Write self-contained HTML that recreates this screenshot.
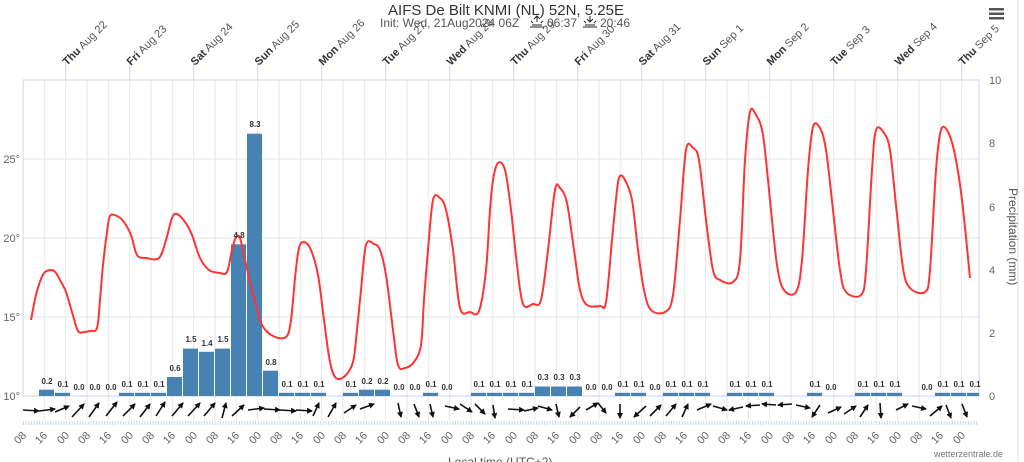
<!DOCTYPE html>
<html><head><meta charset="utf-8"><style>
html,body{margin:0;padding:0;background:#fff;width:1024px;height:462px;overflow:hidden}
svg{display:block;font-family:"Liberation Sans",sans-serif}
.dl{font-size:11px;fill:#555}
.dl tspan.b{font-weight:bold;fill:#333}
.bl{font-size:8px;font-weight:bold;fill:#333;text-anchor:middle}
.xl{font-size:11px;fill:#666;text-anchor:end}
.al{font-size:11px;fill:#666}
</style></head><body>
<svg width="1024" height="462" viewBox="0 0 1024 462">
<defs><marker id="ah" markerWidth="6" markerHeight="6" refX="5" refY="3" orient="auto" markerUnits="userSpaceOnUse"><path d="M0 0L6 3L0 6z" fill="#111"/></marker></defs>
<rect width="1024" height="462" fill="#fff"/>
<line x1="1018" y1="0" x2="1018" y2="462" stroke="#ddd"/>
<!-- title -->
<text x="506" y="15" font-size="15" fill="#333" text-anchor="middle">AIFS De Bilt KNMI (NL) 52N, 5.25E</text>
<text x="380" y="27" font-size="12" fill="#555">Init: Wed, 21Aug2024 06Z</text>
<g stroke="#222" stroke-width="1" fill="none">
<path d="M530 27h14 M532 25h10 M537 16v6 M534 19l3-3 3 3 M533 23l-2-2 M541 23l2-2"/>
<path d="M583 27h14 M585 25h10 M590 16v6 M587 19l3 3 3-3 M586 23l-2-2 M594 23l2-2"/>
</g>
<text x="547" y="27" font-size="12" fill="#555">06:37</text>
<text x="600" y="27" font-size="12" fill="#555">20:46</text>
<g fill="#555"><rect x="989" y="8" width="15" height="2.5"/><rect x="989" y="12.5" width="15" height="2.5"/><rect x="989" y="17" width="15" height="2.5"/></g>
<!-- grid -->
<g stroke="#e6e6e6" stroke-width="1">
<line x1="23" y1="159" x2="979" y2="159"/><line x1="23" y1="238" x2="979" y2="238"/><line x1="23" y1="317" x2="979" y2="317"/>
<line x1="44.3" y1="80" x2="44.3" y2="420"/><line x1="65.7" y1="80" x2="65.7" y2="420"/><line x1="87" y1="80" x2="87" y2="420"/><line x1="108.3" y1="80" x2="108.3" y2="420"/><line x1="129.7" y1="80" x2="129.7" y2="420"/><line x1="151" y1="80" x2="151" y2="420"/><line x1="172.3" y1="80" x2="172.3" y2="420"/><line x1="193.7" y1="80" x2="193.7" y2="420"/><line x1="215" y1="80" x2="215" y2="420"/><line x1="236.3" y1="80" x2="236.3" y2="420"/><line x1="257.7" y1="80" x2="257.7" y2="420"/><line x1="279" y1="80" x2="279" y2="420"/><line x1="300.3" y1="80" x2="300.3" y2="420"/><line x1="321.7" y1="80" x2="321.7" y2="420"/><line x1="343" y1="80" x2="343" y2="420"/><line x1="364.3" y1="80" x2="364.3" y2="420"/><line x1="385.7" y1="80" x2="385.7" y2="420"/><line x1="407" y1="80" x2="407" y2="420"/><line x1="428.3" y1="80" x2="428.3" y2="420"/><line x1="449.7" y1="80" x2="449.7" y2="420"/><line x1="471" y1="80" x2="471" y2="420"/><line x1="492.3" y1="80" x2="492.3" y2="420"/><line x1="513.7" y1="80" x2="513.7" y2="420"/><line x1="535" y1="80" x2="535" y2="420"/><line x1="556.3" y1="80" x2="556.3" y2="420"/><line x1="577.7" y1="80" x2="577.7" y2="420"/><line x1="599" y1="80" x2="599" y2="420"/><line x1="620.3" y1="80" x2="620.3" y2="420"/><line x1="641.7" y1="80" x2="641.7" y2="420"/><line x1="663" y1="80" x2="663" y2="420"/><line x1="684.3" y1="80" x2="684.3" y2="420"/><line x1="705.7" y1="80" x2="705.7" y2="420"/><line x1="727" y1="80" x2="727" y2="420"/><line x1="748.3" y1="80" x2="748.3" y2="420"/><line x1="769.7" y1="80" x2="769.7" y2="420"/><line x1="791" y1="80" x2="791" y2="420"/><line x1="812.3" y1="80" x2="812.3" y2="420"/><line x1="833.7" y1="80" x2="833.7" y2="420"/><line x1="855" y1="80" x2="855" y2="420"/><line x1="876.3" y1="80" x2="876.3" y2="420"/><line x1="897.7" y1="80" x2="897.7" y2="420"/><line x1="919" y1="80" x2="919" y2="420"/><line x1="940.3" y1="80" x2="940.3" y2="420"/><line x1="961.7" y1="80" x2="961.7" y2="420"/>
</g>
<g stroke="#ccd6eb" stroke-width="1" fill="none">
<rect x="23" y="80" width="956" height="316"/>
<path d="M65.7 62V80 M129.7 62V80 M193.7 62V80 M257.7 62V80 M321.7 62V80 M385.7 62V80 M449.7 62V80 M513.7 62V80 M577.7 62V80 M641.7 62V80 M705.7 62V80 M769.7 62V80 M833.7 62V80 M897.7 62V80 M961.7 62V80"/>
</g>
<line x1="23" y1="423" x2="979" y2="423" stroke="#ccd6eb" stroke-width="4" stroke-dasharray="1,1.7"/>
<!-- top day labels -->
<g class="dl">
<text transform="translate(67,66) rotate(-45)"><tspan class="b">Thu</tspan> Aug 22</text>
<text transform="translate(131,66) rotate(-45)"><tspan class="b">Fri</tspan> Aug 23</text>
<text transform="translate(195,66) rotate(-45)"><tspan class="b">Sat</tspan> Aug 24</text>
<text transform="translate(259,66) rotate(-45)"><tspan class="b">Sun</tspan> Aug 25</text>
<text transform="translate(323,66) rotate(-45)"><tspan class="b">Mon</tspan> Aug 26</text>
<text transform="translate(387,66) rotate(-45)"><tspan class="b">Tue</tspan> Aug 27</text>
<text transform="translate(451,66) rotate(-45)"><tspan class="b">Wed</tspan> Aug 28</text>
<text transform="translate(515,66) rotate(-45)"><tspan class="b">Thu</tspan> Aug 29</text>
<text transform="translate(579,66) rotate(-45)"><tspan class="b">Fri</tspan> Aug 30</text>
<text transform="translate(643,66) rotate(-45)"><tspan class="b">Sat</tspan> Aug 31</text>
<text transform="translate(707,66) rotate(-45)"><tspan class="b">Sun</tspan> Sep 1</text>
<text transform="translate(771,66) rotate(-45)"><tspan class="b">Mon</tspan> Sep 2</text>
<text transform="translate(835,66) rotate(-45)"><tspan class="b">Tue</tspan> Sep 3</text>
<text transform="translate(899,66) rotate(-45)"><tspan class="b">Wed</tspan> Sep 4</text>
<text transform="translate(963,66) rotate(-45)"><tspan class="b">Thu</tspan> Sep 5</text>
</g>
<!-- axes labels -->
<g class="al" text-anchor="end">
<text x="20" y="163">25°</text><text x="20" y="242">20°</text><text x="20" y="321">15°</text><text x="20" y="400">10°</text>
</g>
<g class="al">
<text x="989" y="84">10</text><text x="989" y="147">8</text><text x="989" y="211">6</text><text x="989" y="274">4</text><text x="989" y="337">2</text><text x="989" y="400">0</text>
</g>
<text transform="translate(1009,188) rotate(90)" font-size="12" fill="#555">Precipitation (mm)</text>
<!-- bars -->
<g fill="#4682b4">
<rect x="39" y="389.7" width="15" height="6.3"/><rect x="55" y="392.8" width="15" height="3.2"/>
<rect x="119" y="392.8" width="15" height="3.2"/><rect x="135" y="392.8" width="15" height="3.2"/><rect x="151" y="392.8" width="15" height="3.2"/>
<rect x="167" y="377" width="15" height="19"/><rect x="183" y="348.6" width="15" height="47.4"/><rect x="199" y="351.8" width="15" height="44.2"/><rect x="215" y="348.6" width="15" height="47.4"/>
<rect x="231" y="244.3" width="15" height="151.7"/><rect x="247" y="133.7" width="15" height="262.3"/><rect x="263" y="370.7" width="15" height="25.3"/>
<rect x="279" y="392.8" width="15" height="3.2"/><rect x="295" y="392.8" width="15" height="3.2"/><rect x="311" y="392.8" width="15" height="3.2"/>
<rect x="343" y="392.8" width="15" height="3.2"/><rect x="359" y="389.7" width="15" height="6.3"/><rect x="375" y="389.7" width="15" height="6.3"/>
<rect x="423" y="392.8" width="15" height="3.2"/>
<rect x="471" y="392.8" width="15" height="3.2"/><rect x="487" y="392.8" width="15" height="3.2"/><rect x="503" y="392.8" width="15" height="3.2"/><rect x="519" y="392.8" width="15" height="3.2"/>
<rect x="535" y="386.5" width="15" height="9.5"/><rect x="551" y="386.5" width="15" height="9.5"/><rect x="567" y="386.5" width="15" height="9.5"/>
<rect x="615" y="392.8" width="15" height="3.2"/><rect x="631" y="392.8" width="15" height="3.2"/>
<rect x="663" y="392.8" width="15" height="3.2"/><rect x="679" y="392.8" width="15" height="3.2"/><rect x="695" y="392.8" width="15" height="3.2"/>
<rect x="727" y="392.8" width="15" height="3.2"/><rect x="743" y="392.8" width="15" height="3.2"/><rect x="759" y="392.8" width="15" height="3.2"/>
<rect x="807" y="392.8" width="15" height="3.2"/>
<rect x="855" y="392.8" width="15" height="3.2"/><rect x="871" y="392.8" width="15" height="3.2"/><rect x="887" y="392.8" width="15" height="3.2"/>
<rect x="935" y="392.8" width="15" height="3.2"/><rect x="951" y="392.8" width="15" height="3.2"/><rect x="967" y="392.8" width="12" height="3.2"/>
</g>
<!-- temperature -->
<polyline id="temp" fill="none" stroke="#ff3333" stroke-width="2" stroke-linejoin="round" points="31,320 36,295 41,279 45,272 52,270 56,273 60,280 66,292 72,312 78,331 84,332 90,331 97,328 100,300 103,265 107,232 110,216 117,216 124,222 131,235 137,255 146,258 159,258 166,240 172,218 177,214 185,222 192,235 200,258 209,270 220,273 227,272 232,250 236,237 240,238 245,260 250,282 256,305 262,325 273,336 286,337 291,320 295,278 299,248 304,242 311,250 318,275 324,320 330,362 336,378 345,376 353,362 357,330 361,290 366,245 374,244 380,250 386,275 393,330 398,365 405,368 414,362 421,345 424,300 428,250 433,200 440,198 446,210 453,250 460,308 470,312 479,311 486,270 490,210 493,180 498,163 505,170 511,210 517,265 523,304 533,304 541,300 548,250 555,190 560,188 567,203 574,250 580,290 587,305 600,306 606,302 612,240 617,190 620,176 625,180 632,200 638,250 644,290 651,310 665,312 673,295 680,220 686,150 693,148 699,160 706,220 713,270 720,280 733,282 740,260 745,160 750,112 756,115 763,135 770,200 777,265 784,290 796,292 802,260 808,170 813,127 820,128 826,150 833,210 840,270 846,292 861,295 866,270 872,170 876,130 884,133 890,150 896,205 903,268 910,288 925,292 930,270 936,170 941,130 948,132 955,155 962,200 970,278"/>
<!-- bar labels -->
<g class="bl">
<text x="47" y="384">0.2</text><text x="63" y="387">0.1</text><text x="79" y="390">0.0</text><text x="95" y="390">0.0</text><text x="111" y="390">0.0</text>
<text x="127" y="387">0.1</text><text x="143" y="387">0.1</text><text x="159" y="387">0.1</text><text x="175" y="371">0.6</text>
<text x="191" y="342">1.5</text><text x="207" y="346">1.4</text><text x="223" y="342">1.5</text><text x="239" y="238">4.8</text><text x="255" y="127">8.3</text><text x="271" y="365">0.8</text>
<text x="287" y="387">0.1</text><text x="303" y="387">0.1</text><text x="319" y="387">0.1</text>
<text x="351" y="387">0.1</text><text x="367" y="384">0.2</text><text x="383" y="384">0.2</text><text x="399" y="390">0.0</text><text x="415" y="390">0.0</text><text x="431" y="387">0.1</text><text x="447" y="390">0.0</text>
<text x="479" y="387">0.1</text><text x="495" y="387">0.1</text><text x="511" y="387">0.1</text><text x="527" y="387">0.1</text>
<text x="543" y="380">0.3</text><text x="559" y="380">0.3</text><text x="575" y="380">0.3</text><text x="591" y="390">0.0</text><text x="607" y="390">0.0</text>
<text x="623" y="387">0.1</text><text x="639" y="387">0.1</text><text x="655" y="390">0.0</text><text x="671" y="387">0.1</text><text x="687" y="387">0.1</text><text x="703" y="387">0.1</text>
<text x="735" y="387">0.1</text><text x="751" y="387">0.1</text><text x="767" y="387">0.1</text>
<text x="815" y="387">0.1</text><text x="831" y="390">0.0</text>
<text x="863" y="387">0.1</text><text x="879" y="387">0.1</text><text x="895" y="387">0.1</text>
<text x="927" y="390">0.0</text><text x="943" y="387">0.1</text><text x="959" y="387">0.1</text><text x="975" y="387">0.1</text>
</g>
<!-- wind barbs -->
<g id="wind" stroke="#111" stroke-width="1.6" fill="none">
<path d="M23 410l16 1"/><path d="M39 411l16-2"/><path d="M55 412l14-6"/><path d="M72 417l12-13"/><path d="M89 417l10-14"/><path d="M106 416l11-14"/><path d="M123 416l12-12"/><path d="M140 417l10-13"/><path d="M156 416l9-14"/><path d="M172 416l11-13"/><path d="M188 416l12-13"/><path d="M204 416l11-13"/><path d="M222 418l4-15"/><path d="M232 416l12-11"/><path d="M248 410l16-2"/><path d="M264 409l16 1"/><path d="M280 410l16 1"/><path d="M296 410l16 1"/><path d="M313 416l6-13"/><path d="M328 417l8-14"/><path d="M344 413l12-8"/><path d="M360 409l14-5"/><path d="M398 403l3 14"/><path d="M414 404l5 13"/><path d="M430 404l3 13"/><path d="M445 406l14 3"/><path d="M460 404l12 8"/><path d="M475 404l10 10"/><path d="M493 405l2 13"/><path d="M508 409l16 1"/><path d="M524 411l14-3"/><path d="M538 406l14 4"/><path d="M556 404l3 13"/><path d="M580 407l-10 10"/><path d="M586 410l12-7"/><path d="M598 403l8 10"/><path d="M620 404l0 14"/><path d="M646 406l-12 11"/><path d="M650 416l11-11"/><path d="M666 416l10-12"/><path d="M682 417l6-13"/><path d="M697 410l14-6"/><path d="M713 406l14 4"/><path d="M743 407l-14 3"/><path d="M760 405l-14 1"/><path d="M776 405l-14-1"/><path d="M792 404l-14 1"/><path d="M796 405l14 3"/><path d="M820 405l-8 12"/><path d="M828 413l13-6"/><path d="M844 414l12-8"/><path d="M860 417l8-12"/><path d="M880 403l1 15"/><path d="M896 410l12-6"/><path d="M912 406l14 3"/><path d="M930 416l12-10"/><path d="M946 405l5 13"/><path d="M962 404l5 13"/>
</g>
<!-- x labels -->
<g class="xl">
<text transform="translate(27,436) rotate(-45)">08</text><text transform="translate(48,436) rotate(-45)">16</text><text transform="translate(70,436) rotate(-45)">00</text><text transform="translate(91,436) rotate(-45)">08</text><text transform="translate(112,436) rotate(-45)">16</text><text transform="translate(134,436) rotate(-45)">00</text><text transform="translate(155,436) rotate(-45)">08</text><text transform="translate(176,436) rotate(-45)">16</text><text transform="translate(198,436) rotate(-45)">00</text><text transform="translate(219,436) rotate(-45)">08</text><text transform="translate(240,436) rotate(-45)">16</text><text transform="translate(262,436) rotate(-45)">00</text><text transform="translate(283,436) rotate(-45)">08</text><text transform="translate(304,436) rotate(-45)">16</text><text transform="translate(326,436) rotate(-45)">00</text><text transform="translate(347,436) rotate(-45)">08</text><text transform="translate(368,436) rotate(-45)">16</text><text transform="translate(390,436) rotate(-45)">00</text><text transform="translate(411,436) rotate(-45)">08</text><text transform="translate(432,436) rotate(-45)">16</text><text transform="translate(454,436) rotate(-45)">00</text><text transform="translate(475,436) rotate(-45)">08</text><text transform="translate(496,436) rotate(-45)">16</text><text transform="translate(518,436) rotate(-45)">00</text><text transform="translate(539,436) rotate(-45)">08</text><text transform="translate(560,436) rotate(-45)">16</text><text transform="translate(582,436) rotate(-45)">00</text><text transform="translate(603,436) rotate(-45)">08</text><text transform="translate(624,436) rotate(-45)">16</text><text transform="translate(646,436) rotate(-45)">00</text><text transform="translate(667,436) rotate(-45)">08</text><text transform="translate(688,436) rotate(-45)">16</text><text transform="translate(710,436) rotate(-45)">00</text><text transform="translate(731,436) rotate(-45)">08</text><text transform="translate(752,436) rotate(-45)">16</text><text transform="translate(774,436) rotate(-45)">00</text><text transform="translate(795,436) rotate(-45)">08</text><text transform="translate(816,436) rotate(-45)">16</text><text transform="translate(838,436) rotate(-45)">00</text><text transform="translate(859,436) rotate(-45)">08</text><text transform="translate(880,436) rotate(-45)">16</text><text transform="translate(902,436) rotate(-45)">00</text><text transform="translate(923,436) rotate(-45)">08</text><text transform="translate(944,436) rotate(-45)">16</text><text transform="translate(966,436) rotate(-45)">00</text>
</g>
<text x="448" y="466" font-size="12" fill="#555">Local time (UTC+2)</text>
<text x="1003" y="457" font-size="9" fill="#777" text-anchor="end">wetterzentrale.de</text>
</svg>
<script>
(function(){
var pl=document.getElementById('temp');
var pts=pl.getAttribute('points').trim().split(/\s+/).map(function(s){return s.split(',').map(Number);});
var d='M'+pts[0][0]+' '+pts[0][1];
for(var i=0;i<pts.length-1;i++){
var p0=pts[i-1]||pts[i],p1=pts[i],p2=pts[i+1],p3=pts[i+2]||p2;
var c1x=p1[0]+(p2[0]-p0[0])/6,c1y=p1[1]+(p2[1]-p0[1])/6;
var c2x=p2[0]-(p3[0]-p1[0])/6,c2y=p2[1]-(p3[1]-p1[1])/6;
d+=' C'+c1x.toFixed(1)+' '+c1y.toFixed(1)+' '+c2x.toFixed(1)+' '+c2y.toFixed(1)+' '+p2[0]+' '+p2[1];
}
var p=document.createElementNS('http://www.w3.org/2000/svg','path');
p.setAttribute('d',d);p.setAttribute('fill','none');p.setAttribute('stroke','#ff3333');p.setAttribute('stroke-width','2');
pl.parentNode.replaceChild(p,pl);
var w=document.querySelectorAll('#wind path');
for(var j=0;j<w.length;j++)w[j].setAttribute('marker-end','url(#ah)');
})();
</script>
</body></html>
